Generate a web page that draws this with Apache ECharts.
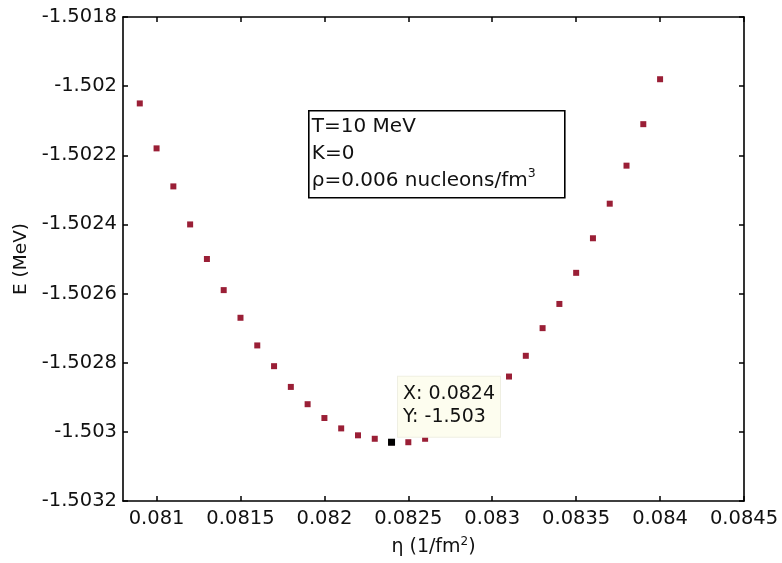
<!DOCTYPE html>
<html>
<head>
<meta charset="utf-8">
<script src="https://cdn.jsdelivr.net/npm/echarts@6/dist/echarts.min.js"></script>
<style>
html,body{margin:0;padding:0;background:#fff;}
#chart{width:782px;height:563px;}
</style>
</head>
<body>
<div id="chart"></div>
<script>
// ---- data ----
var etaValues = [0.0809,0.0810,0.0811,0.0812,0.0813,0.0814,0.0815,0.0816,0.0817,0.0818,
                 0.0819,0.0820,0.0821,0.0822,0.0823,0.0824,0.0825,0.0826,0.0827,0.0828,
                 0.0829,0.0830,0.0831,0.0832,0.0833,0.0834,0.0835,0.0836,0.0837,0.0838,
                 0.0839,0.0840];
var energyValues = [-1.50205,-1.50218,-1.50229,-1.50240,-1.50250,-1.50259,-1.50267,-1.50275,-1.50281,-1.50287,
                    -1.50292,-1.50296,-1.50299,-1.50301,-1.50302,-1.50303,-1.50303,-1.50302,-1.50300,-1.50297,
                    -1.50293,-1.50289,-1.50284,-1.50278,-1.50270,-1.50263,-1.50254,-1.50244,-1.50234,-1.50223,
                    -1.50211,-1.50198];
var xTickValues = [0.081,0.0815,0.082,0.0825,0.083,0.0835,0.084,0.0845];
var yTickValues = [-1.5032,-1.503,-1.5028,-1.5026,-1.5024,-1.5022,-1.502,-1.5018];
var tipPoint = [0.0824, -1.50303];
var infoLines = ['T=10 MeV', 'K=0', 'ρ=0.006 nucleons/fm'];

var FONT = "'DejaVu Sans', 'Liberation Sans', Arial, sans-serif";
var chart = echarts.init(document.getElementById('chart'), null, {renderer:'canvas'});

var xMin = 0.0808, xMax = 0.0845, yMin = yTickValues[0], yMax = yTickValues[yTickValues.length-1];
var axisLine = {show:true, lineStyle:{color:'#000', width:1.6}};
var tickIn = {show:true, inside:true, length:5, lineStyle:{color:'#000', width:1.5}};

function fmt(v){ return String(+(+v).toFixed(5)); }

var option = {
  backgroundColor:'#fff',
  animation:false,
  grid:{left:123, top:17, right:38, bottom:62, containLabel:false},
  xAxis:[{
    type:'value', min:xMin, max:xMax, position:'bottom',
    axisLine:axisLine,
    axisTick:Object.assign({customValues:xTickValues}, tickIn),
    axisLabel:{customValues:xTickValues, formatter:fmt, color:'#111', fontSize:19.5, fontFamily:FONT, margin:8},
    splitLine:{show:false},
    name:'η (1/fm{sup|2})', nameLocation:'middle', nameGap:35,
    nameTextStyle:{color:'#111', fontSize:19, fontFamily:FONT, verticalAlign:'top',
      rich:{sup:{fontSize:12, verticalAlign:'top', padding:[0,0,10,0], fontFamily:FONT, color:'#111'}}}
  },{
    type:'value', min:xMin, max:xMax, position:'top',
    axisLine:axisLine,
    axisTick:Object.assign({customValues:xTickValues}, tickIn),
    axisLabel:{show:false}, splitLine:{show:false}
  }],
  yAxis:[{
    type:'value', min:yMin, max:yMax, interval:0.0002, position:'left',
    axisLine:axisLine,
    axisTick:Object.assign({customValues:yTickValues}, tickIn),
    axisLabel:{customValues:yTickValues, formatter:fmt, color:'#111', fontSize:19.5, fontFamily:FONT, margin:6},
    splitLine:{show:false},
    name:'E (MeV)', nameLocation:'middle', nameGap:88, nameRotate:90,
    nameTextStyle:{color:'#111', fontSize:18.5, fontFamily:FONT}
  },{
    type:'value', min:yMin, max:yMax, interval:0.0002, position:'right',
    axisLine:axisLine,
    axisTick:Object.assign({customValues:yTickValues}, tickIn),
    axisLabel:{show:false}, splitLine:{show:false}
  }],
  series:[{
    type:'scatter', xAxisIndex:0, yAxisIndex:0, z:2,
    symbol:'rect', symbolSize:6,
    itemStyle:{color:'#9a1f36', opacity:1},
    emphasis:{disabled:true},
    data: etaValues.map(function(x,i){ return [x, energyValues[i]]; })
  },{
    type:'scatter', xAxisIndex:0, yAxisIndex:0, z:10,
    symbol:'rect', symbolSize:7,
    itemStyle:{color:'#000', opacity:1},
    emphasis:{disabled:true},
    data:[tipPoint],
    label:{show:true, position:[10,-62],
      formatter:function(p){ return 'X: ' + p.value[0] + '\nY: ' + Number(p.value[1].toPrecision(4)); },
      color:'#111', fontSize:19, fontFamily:FONT, lineHeight:23,
      backgroundColor:'#fdfdef', borderColor:'#efefe2', borderWidth:1, padding:[6,5,8,5], align:'left'}
  }],
  graphic:[{
    type:'group', left:308, top:110, z:20,
    children:[{
      type:'rect', shape:{x:0, y:0, width:256, height:87},
      style:{fill:'#fff', stroke:'#000', lineWidth:1.6}
    },{
      type:'text', left:3, top:2,
      style:{
        text: infoLines[0] + '\n' + infoLines[1] + '\n' + infoLines[2] + '{sup|3}',
        fill:'#111', fontSize:20, fontFamily:FONT, lineHeight:27,
        rich:{sup:{fontSize:12.5, fontFamily:FONT, fill:'#111', verticalAlign:'top', padding:[0,0,12,0]}}
      }
    }]
  }]
};
chart.setOption(option);
</script>
</body>
</html>
